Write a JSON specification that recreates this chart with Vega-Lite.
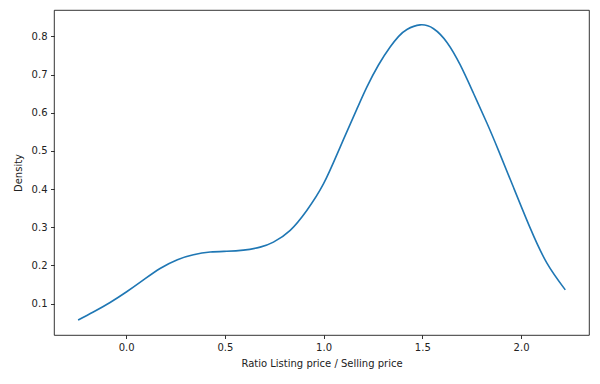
{
  "$schema": "https://vega.github.io/schema/vega-lite/v6.json",
  "width": 535,
  "height": 325,
  "autosize": {"type": "none"},
  "padding": {"left": 54, "top": 10, "right": 11, "bottom": 49},
  "background": "white",
  "config": {
    "view": {"stroke": "#000", "strokeWidth": 0.8},
    "axis": {
      "domain": false,
      "grid": false,
      "tickColor": "#000",
      "tickWidth": 0.8,
      "tickSize": 3.5,
      "labelPadding": 3.5,
      "labelFont": "DejaVu Sans",
      "labelFontSize": 10,
      "labelColor": "#222",
      "titleFont": "DejaVu Sans",
      "titleFontSize": 10,
      "titleFontWeight": "normal",
      "titleColor": "#222"
    }
  },
  "data": {
    "values": [
      {"x": -0.243, "y": 0.057},
      {"x": -0.166, "y": 0.078},
      {"x": -0.081, "y": 0.103},
      {"x": 0.003, "y": 0.131},
      {"x": 0.088, "y": 0.162},
      {"x": 0.172, "y": 0.192},
      {"x": 0.26, "y": 0.215},
      {"x": 0.341, "y": 0.228},
      {"x": 0.426, "y": 0.235},
      {"x": 0.51, "y": 0.237},
      {"x": 0.594, "y": 0.240},
      {"x": 0.679, "y": 0.248},
      {"x": 0.746, "y": 0.261},
      {"x": 0.831, "y": 0.292},
      {"x": 0.915, "y": 0.344},
      {"x": 1.0, "y": 0.414},
      {"x": 1.084, "y": 0.510},
      {"x": 1.169, "y": 0.610},
      {"x": 1.219, "y": 0.667},
      {"x": 1.278, "y": 0.725},
      {"x": 1.337, "y": 0.772},
      {"x": 1.38, "y": 0.800},
      {"x": 1.422, "y": 0.818},
      {"x": 1.489, "y": 0.830},
      {"x": 1.557, "y": 0.820},
      {"x": 1.625, "y": 0.784},
      {"x": 1.692, "y": 0.725},
      {"x": 1.759, "y": 0.651},
      {"x": 1.827, "y": 0.573},
      {"x": 1.885, "y": 0.502},
      {"x": 1.962, "y": 0.404},
      {"x": 2.047, "y": 0.297},
      {"x": 2.131, "y": 0.206},
      {"x": 2.224, "y": 0.136}
    ]
  },
  "mark": {"type": "line", "color": "#1f77b4", "strokeWidth": 1.6, "interpolate": "natural", "clip": true},
  "encoding": {
    "x": {
      "field": "x",
      "type": "quantitative",
      "scale": {"domain": [-0.365, 2.344], "nice": false, "zero": false},
      "axis": {"title": "Ratio Listing price / Selling price", "values": [0, 0.5, 1, 1.5, 2], "format": ".1f", "titlePadding": 6}
    },
    "y": {
      "field": "y",
      "type": "quantitative",
      "scale": {"domain": [0.0178, 0.869], "nice": false, "zero": false},
      "axis": {"title": "Density", "values": [0.1, 0.2, 0.3, 0.4, 0.5, 0.6, 0.7, 0.8], "format": ".1f", "titlePadding": 8}
    }
  }
}
